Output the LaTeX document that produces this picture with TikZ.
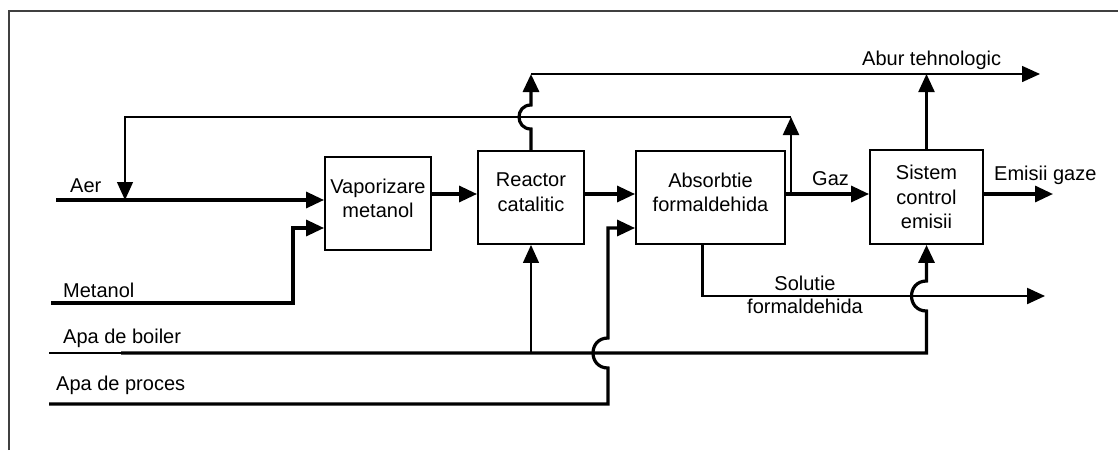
\documentclass[tikz,border=0pt]{standalone}
\usepackage{fontspec}
\setmainfont{Liberation Sans}
\usetikzlibrary{arrows.meta,positioning,calc}

\begin{document}
\begin{tikzpicture}[x=1pt,y=-1pt,
    font=\fontsize{20}{24.5}\selectfont,
    unit/.style={draw,line width=1.9pt,inner sep=0pt,align=center},
    tip/.style={-{Triangle[length=18pt,width=16pt]}},
    flow/.style={tip,line width=3.2pt},
    medflow/.style={tip,line width=2.2pt},
    thinflow/.style={tip,line width=1.3pt},
    lbl/.style={anchor=base west,inner sep=0pt},
    clbl/.style={anchor=base,inner sep=0pt}]
    \useasboundingbox (0,0) rectangle (1118,450);
    % Frame
    \draw[line width=1.5pt,black!75] (9,450) -- (9,11) -- (1118,11);
    % Levels of the lines
    \coordinate (main) at (0,194);
    \coordinate (low) at (0,228);
    \coordinate (rec) at (0,117);
    \coordinate (steam) at (0,74);
    \coordinate (sol) at (0,296);
    \coordinate (boilY) at (0,353);
    % Units
    \node[unit,minimum width=106,minimum height=93] (vap) at (378,203.5) {Vaporizare\\metanol\\[-14pt]\mbox{}};
    \node[unit,minimum width=106,minimum height=93] (reac) at (531,197.5) {Reactor\\catalitic\\[-14pt]\mbox{}};
    \node[unit,minimum width=149,minimum height=93] (abs) at (710.5,197.5) {Absorbtie\\formaldehida\\[-14pt]\mbox{}};
    \node[unit,minimum width=113,minimum height=94] (sist) at (926.5,197) {Sistem\\control\\emisii};
    % Inputs and outputs
    \coordinate (aer) at (56,200);
    \coordinate (met) at (51,303);
    \coordinate (boil) at (49,353);
    \coordinate (proc) at (49,404);
    \coordinate (mk) at (293,228);
    \coordinate (aj) at (125,200);
    \coordinate (gj) at (791,194);
    \coordinate (gasout) at (1053,194);
    \coordinate (steamout) at (1040,74);
    \coordinate (solout) at (1045,296);
    \node[lbl] (laer) at (70,192) {Aer};
    \node[lbl] (lmet) at (63,297) {Metanol};
    \node[lbl] (lboil) at (63,343) {Apa de boiler};
    \node[lbl] (lproc) at (56,390) {Apa de proces};
    \node[lbl] (lgaz) at (812,185) {Gaz};
    \node[lbl] (lemis) at (994,180) {Emisii gaze};
    \node[lbl] (labur) at (862,65) {Abur tehnologic};
    \node[clbl] (lsol1) at (805,290) {Solutie};
    \node[clbl] (lsol2) at (805,313) {formaldehida};
    % Main gas line
    \draw[flow] (aer) -- (aer -| vap.west);
    \draw[flow] (met) -| (mk) -- (mk -| vap.west);
    \draw[flow] (vap.east |- main) -- (reac.west |- main);
    \draw[flow] (reac.east |- main) -- (abs.west |- main);
    \draw[flow] (abs.east |- main) -- (sist.west |- main);
    \draw[flow] (sist.east |- main) -- (gasout);
    % Recycle to air
    \draw[medflow] (gj) -- (gj |- rec);
    \draw[thinflow] (gj |- rec) -| (aj);
    % Steam
    \draw[flow] (reac.north) -- ($(reac.north |- rec)+(0,12)$)
        .. controls +(-16,0) and +(-16,0) .. ($(reac.north |- rec)+(0,-12)$)
        -- (reac.north |- steam);
    \draw[thinflow,line width=1.5pt] (reac.north |- steam) -- (steamout);
    \draw[medflow] (sist.north) -- (sist.north |- steam);
    % Formaldehyde solution
    \draw[medflow] ($(abs.south)+(-8,0)$) |- (solout);
    % Boiler water
    \draw[line width=1.3pt] (boil) -- (121,353);
    \draw[flow] (121,353) -| ($(sist.south |- sol)+(0,15)$)
        .. controls +(-20,0) and +(-20,0) .. ($(sist.south |- sol)+(0,-15)$)
        -- (sist.south);
    \draw[thinflow] (reac.south |- boilY) -- (reac.south);
    % Process water
    \draw[flow] (proc) -| (608,368)
        .. controls +(-20,0) and +(-20,0) .. (608,338)
        |- (abs.west |- low);
\end{tikzpicture}
\end{document}
